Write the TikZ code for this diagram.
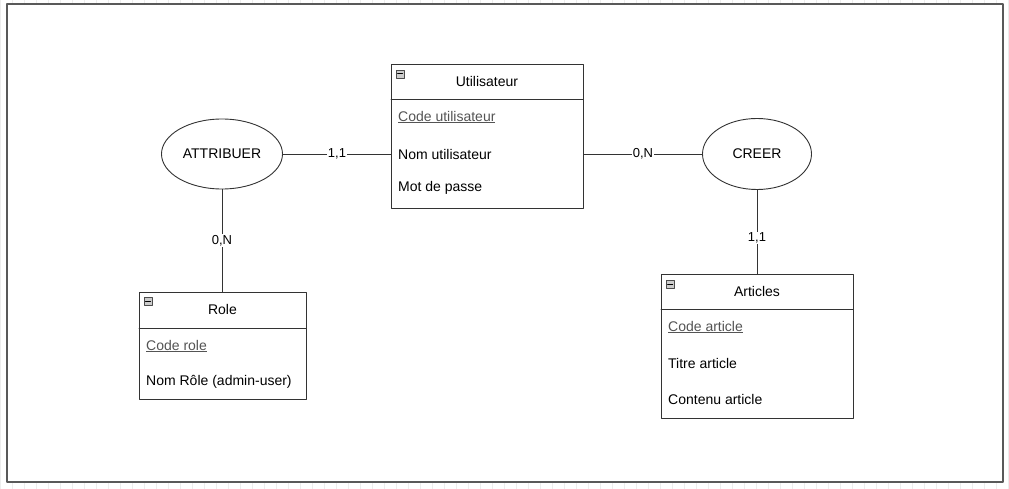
\documentclass[tikz,border=0pt]{standalone}
\usepackage{fontspec}
\setmainfont{Liberation Sans}
\usepackage{tikz}
\definecolor{linegray}{rgb}{0.2,0.2,0.2}
\definecolor{framegray}{rgb}{0.35,0.35,0.35}
\definecolor{keygray}{rgb}{0.33,0.33,0.33}
\definecolor{gridgray}{rgb}{0.93,0.93,0.93}
\usetikzlibrary{shapes.geometric}

\tikzset{
  entity/.style={draw=linegray, line width=0.9pt, fill=white, inner sep=0pt, anchor=north west},
  relation/.style={ellipse, draw=linegray, line width=0.9pt, fill=white, inner sep=0pt, font=\fontsize{14}{16}\selectfont},
  title/.style={inner sep=0pt, font=\fontsize{14}{16}\selectfont},
  attr/.style={anchor=west, inner sep=0pt, font=\fontsize{14}{16}\selectfont},
  keyattr/.style={attr, text=keygray},
  card/.style={fill=white, inner sep=1pt, font=\fontsize{13}{15}\selectfont},
  link/.style={draw=linegray, line width=0.9pt},
  fold/.style={draw=black!70, fill=black!20, line width=0.6pt}
}

\begin{document}
\begin{tikzpicture}[line cap=round,line join=round,x=1pt,y=-1pt]
	\useasboundingbox (0,0) rectangle (1009,489);
	% background grid and frame
	\draw[gridgray, step=12] (0,0) grid (1009,489);
	\draw[framegray, line width=2pt, fill=white] (7,4) rectangle (1003,482);

	% Utilisateur
	\node[entity, minimum width=192, minimum height=144] (user) at (391,64) {};
	\draw[link] (391,99) -- (583,99);
	\draw[fold] (396,70) rectangle (404,78);
	\draw[black, line width=1pt] (397.5,74) -- (402.5,74);
	\node[title] (userT) at (487,81) {Utilisateur};
	\node[keyattr] (userK) at (398,117) {\underline{Code utilisateur}};
	\node[attr] (userN) at (398,154) {Nom utilisateur};
	\node[attr] (userP) at (398,188) {Mot de passe};

	% Role
	\node[entity, minimum width=167, minimum height=107] (role) at (139,292) {};
	\draw[link] (139,328) -- (306,328);
	\draw[fold] (144,297) rectangle (152,305);
	\draw[black, line width=1pt] (145.5,301) -- (150.5,301);
	\node[title] (roleT) at (222.5,309) {Role};
	\node[keyattr] (roleK) at (146,346) {\underline{Code role}};
	\node[attr] (roleN) at (146,382) {Nom Rôle (admin-user)};

	% Articles
	\node[entity, minimum width=192, minimum height=144] (art) at (661,274) {};
	\draw[link] (661,309) -- (853,309);
	\draw[fold] (666,280) rectangle (674,288);
	\draw[black, line width=1pt] (667.5,284) -- (672.5,284);
	\node[title] (artT) at (757,291) {Articles};
	\node[keyattr] (artK) at (668,327) {\underline{Code article}};
	\node[attr] (artN) at (668,363) {Titre article};
	\node[attr] (artC) at (668,399) {Contenu article};

	% associations
	\node[relation, minimum width=121, minimum height=70] (attrib) at (222,154) {ATTRIBUER};
	\node[relation, minimum width=109, minimum height=71] (creer) at (757,154) {CREER};

	% links
	\draw[link] (attrib.east) -- node[card] {1,1} (attrib.east -| user.west);
	\draw[link] (creer.west -| user.east) -- node[card] {0,N} (creer.west);
	\draw[link] (attrib.south) -- node[card] {0,N} (attrib.south |- role.north);
	\draw[link] (creer.south) -- node[card, pos=0.57] {1,1} (creer.south |- art.north);
\end{tikzpicture}
\end{document}
